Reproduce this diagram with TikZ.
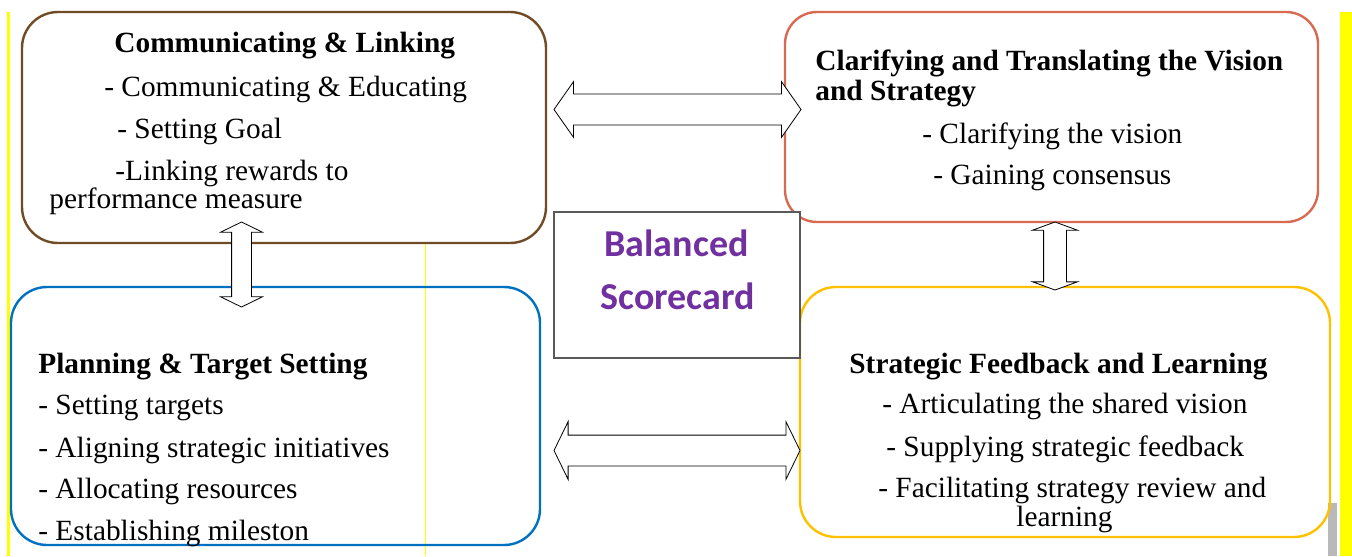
\documentclass[tikz,border=0pt]{standalone}
\usepackage{fontspec}
\setmainfont{Liberation Serif}
\newfontfamily\calibrifont{Carlito}
\usetikzlibrary{shapes.arrows}

\definecolor{linkbrown}{RGB}{112,76,38}
\definecolor{visionred}{RGB}{216,106,82}
\definecolor{planblue}{RGB}{0,112,192}
\definecolor{feedgold}{RGB}{255,192,0}
\definecolor{bscpurple}{RGB}{112,48,160}
\definecolor{markyellow}{RGB}{255,255,0}

\begin{document}
\begin{tikzpicture}[x=0.5pt,y=-0.5pt]
\useasboundingbox[fill=white] (0,0) rectangle (1352,556);

\fill[markyellow] (7,12) rectangle (10,556);
\fill[markyellow] (1340,12) rectangle (1352,556);
\fill[gray!55] (1328,503) rectangle (1337,556);
\fill[markyellow] (424.5,243) rectangle (425.7,556);


\tikzset{BoxStyle/.style = {rectangle, rounded corners=18pt, line width=1.2pt, inner sep=0pt} }

\node[BoxStyle, draw=linkbrown, minimum width=262pt, minimum height=115.5pt] (B1) at (284,127.5) {};
\node[BoxStyle, draw=visionred, rounded corners=16pt, minimum width=266.5pt, minimum height=105pt] (B2) at (1051.5,117) {};
\node[BoxStyle, draw=planblue, minimum width=264.5pt, minimum height=129pt] (B4) at (275.5,416) {};
\node[BoxStyle, draw=feedgold, minimum width=265pt, minimum height=125pt] (B5) at (1065,412) {};
\node[draw=black!65, fill=white, line width=0.6pt, minimum width=123pt, minimum height=73pt] (B3) at (677,285) {};


\tikzset{TextStyle/.style = {anchor=base west, inner sep=0pt, font=\fontsize{14.67}{17}\selectfont},
 HeadStyle/.style = {TextStyle, font=\fontsize{14.67}{17}\selectfont\bfseries} }

\node[HeadStyle] (T1_1) at (114,53) {Communicating \& Linking};
\node[TextStyle] (T1_2) at (104,97) {- Communicating \& Educating};
\node[TextStyle] (T1_3) at (117,138) {- Setting Goal};
\node[TextStyle] (T1_4) at (115,180) {-Linking rewards to};
\node[TextStyle] (T1_5) at (49,208) {performance measure};

\node[HeadStyle] (T2_1) at (815,71) {Clarifying and Translating the Vision};
\node[HeadStyle] (T2_2) at (815,100) {and Strategy};
\node[TextStyle] (T2_3) at (922,143) {- Clarifying the vision};
\node[TextStyle] (T2_4) at (933,184) {- Gaining consensus};

\node[anchor=base, text=bscpurple, font=\calibrifont\bfseries\fontsize{19}{23}\selectfont] (T3_1) at (676.5,256) {Balanced};
\node[anchor=base, text=bscpurple, font=\calibrifont\bfseries\fontsize{19}{23}\selectfont] (T3_2) at (677.5,309) {Scorecard};

\node[HeadStyle] (T4_1) at (38,373) {Planning \& Target Setting};
\node[TextStyle] (T4_2) at (38,414) {- Setting targets};
\node[TextStyle] (T4_3) at (38,457) {- Aligning strategic initiatives};
\node[TextStyle] (T4_4) at (38,498) {- Allocating resources};
\node[TextStyle] (T4_5) at (38,540) {- Establishing mileston};

\node[HeadStyle] (T5_1) at (849,373) {Strategic Feedback and Learning};
\node[TextStyle] (T5_2) at (882,413) {- Articulating the shared vision};
\node[TextStyle] (T5_3) at (886,456) {- Supplying strategic feedback};
\node[TextStyle] (T5_4) at (878,497) {- Facilitating strategy review and};
\node[TextStyle] (T5_5) at (1016,526) {learning};


\tikzset{ArrowStyle/.style = {double arrow, draw, fill=white, thin, inner xsep=0pt} }

\node[ArrowStyle, minimum height=123.5pt, inner ysep=7.5pt, double arrow head extend=6.25pt, double arrow tip angle=110] (A1) at (677.5,109.5) {};
\node[ArrowStyle, minimum height=123pt, inner ysep=7.5pt, double arrow head extend=6.75pt, double arrow tip angle=128] (A2) at (677,450.5) {};
\node[ArrowStyle, rotate=90, minimum height=42.5pt, inner ysep=4.75pt, double arrow head extend=5.5pt, double arrow tip angle=128] (A3) at (241.5,264.5) {};
\node[ArrowStyle, rotate=90, minimum height=34pt, inner ysep=5.5pt, double arrow head extend=5.5pt, double arrow tip angle=140] (A4) at (1055,256) {};

\end{tikzpicture}
\end{document}
